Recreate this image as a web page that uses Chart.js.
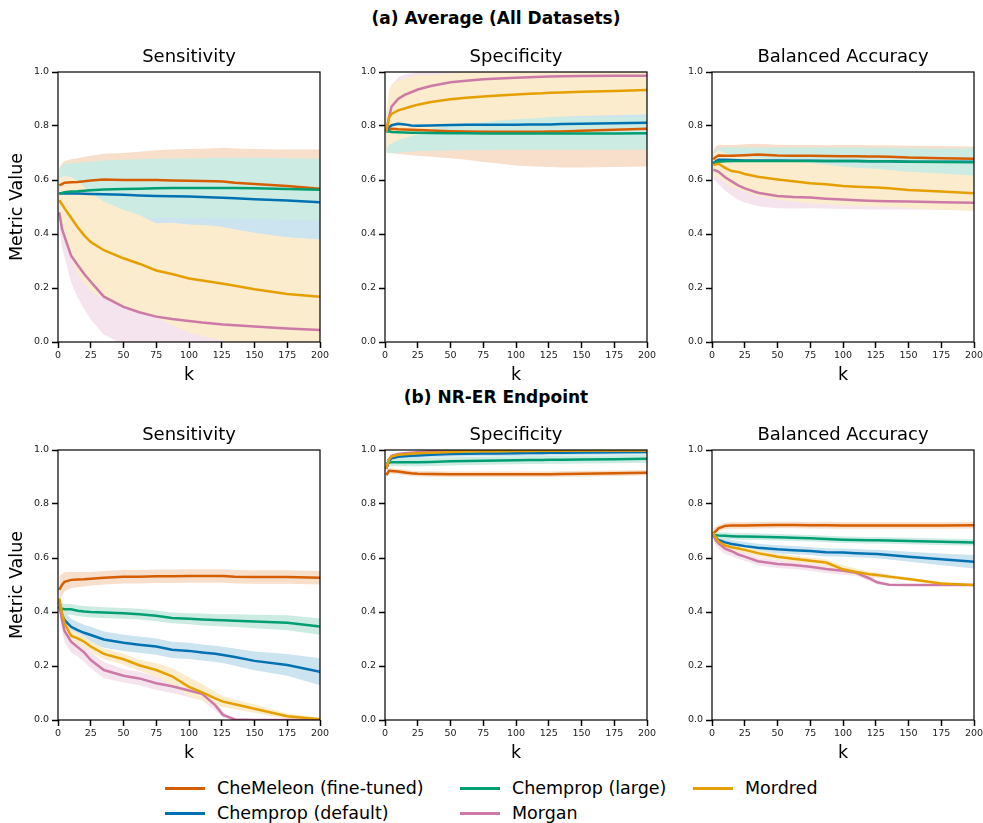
<!DOCTYPE html>
<html>
<head>
<meta charset="utf-8">
<script src="https://cdn.jsdelivr.net/npm/chart.js@4.4.0/dist/chart.umd.min.js"></script>
<style>
  body { margin: 0; background: #fff; font-family: "DejaVu Sans", sans-serif; }
  #fig { position: relative; width: 983px; height: 823px; overflow: hidden; }
  #fig canvas { position: absolute; }
  .sup { position: absolute; width: 600px; text-align: center; font-weight: bold; font-size: 17px; line-height: 20px; }
  .sub { position: absolute; width: 262px; text-align: center; font-size: 18px; line-height: 20px; }
  .lg-line { position: absolute; width: 40px; height: 3px; }
  .lg-text { position: absolute; font-size: 17.5px; line-height: 22px; white-space: nowrap; }
</style>
</head>
<body>
<div id="fig">
  <div class="sup" style="left:196px; top:8px;">(a) Average (All Datasets)</div>
  <div class="sup" style="left:196px; top:387px;">(b) NR-ER Endpoint</div>
</div>
<script>
// k values where the curves were read
const K = [1, 3, 5, 10, 15, 20, 25, 35, 50, 62, 75, 87, 100, 110, 120, 126, 135, 150, 175, 200];

const SERIES = ["CheMeleon (fine-tuned)", "Chemprop (default)", "Chemprop (large)", "Morgan", "Mordred"];
const COLORS = ["#D55E00", "#0072B2", "#009E73", "#CC79A7", "#E69F00"];
const METRICS = ["Sensitivity", "Specificity", "Balanced Accuracy"];
const X_TICKS = [0, 25, 50, 75, 100, 125, 150, 175, 200];
const Y_TICKS = [0, 0.2, 0.4, 0.6, 0.8, 1.0];

// (a) Average - Sensitivity
const a_sens_chemeleon = [0.580, 0.585, 0.590, 0.592, 0.593, 0.595, 0.598, 0.602, 0.600, 0.600, 0.600, 0.598, 0.597, 0.596, 0.595, 0.594, 0.590, 0.585, 0.578, 0.568];
const a_sens_chemeleon_sd = [0.065, 0.075, 0.080, 0.085, 0.088, 0.090, 0.092, 0.095, 0.100, 0.105, 0.110, 0.115, 0.118, 0.120, 0.123, 0.125, 0.127, 0.130, 0.135, 0.145];
const a_sens_default = [0.550, 0.550, 0.550, 0.550, 0.550, 0.549, 0.548, 0.547, 0.545, 0.543, 0.541, 0.540, 0.539, 0.537, 0.535, 0.534, 0.532, 0.529, 0.524, 0.518];
const a_sens_default_sd = [0.090, 0.100, 0.105, 0.110, 0.112, 0.115, 0.117, 0.120, 0.123, 0.125, 0.127, 0.128, 0.130, 0.131, 0.132, 0.133, 0.134, 0.135, 0.137, 0.140];
const a_sens_large = [0.550, 0.552, 0.555, 0.557, 0.558, 0.560, 0.562, 0.565, 0.567, 0.568, 0.569, 0.570, 0.570, 0.570, 0.570, 0.570, 0.570, 0.569, 0.567, 0.564];
const a_sens_large_sd = [0.090, 0.100, 0.105, 0.105, 0.105, 0.106, 0.106, 0.107, 0.108, 0.109, 0.110, 0.110, 0.111, 0.111, 0.112, 0.112, 0.112, 0.113, 0.114, 0.115];
const a_sens_morgan = [0.480, 0.420, 0.390, 0.320, 0.285, 0.252, 0.223, 0.168, 0.130, 0.110, 0.094, 0.085, 0.078, 0.072, 0.068, 0.065, 0.062, 0.057, 0.050, 0.044];
const a_sens_morgan_sd = [0.060, 0.070, 0.075, 0.100, 0.120, 0.130, 0.140, 0.140, 0.140, 0.130, 0.125, 0.120, 0.115, 0.110, 0.110, 0.105, 0.105, 0.100, 0.100, 0.100];
const a_sens_mordred = [0.525, 0.510, 0.495, 0.460, 0.425, 0.395, 0.370, 0.340, 0.310, 0.290, 0.265, 0.252, 0.235, 0.228, 0.220, 0.216, 0.208, 0.195, 0.178, 0.168];
const a_sens_mordred_sd = [0.080, 0.100, 0.120, 0.150, 0.170, 0.180, 0.180, 0.180, 0.180, 0.180, 0.175, 0.190, 0.200, 0.205, 0.210, 0.210, 0.210, 0.210, 0.210, 0.212];

// (a) Average - Specificity
const a_spec_chemeleon = [0.780, 0.785, 0.790, 0.788, 0.787, 0.786, 0.785, 0.783, 0.781, 0.780, 0.779, 0.779, 0.779, 0.779, 0.779, 0.780, 0.780, 0.782, 0.786, 0.790];
const a_spec_chemeleon_sd = [0.080, 0.085, 0.090, 0.092, 0.093, 0.094, 0.095, 0.097, 0.100, 0.105, 0.112, 0.118, 0.125, 0.128, 0.130, 0.132, 0.134, 0.136, 0.138, 0.140];
const a_spec_default = [0.780, 0.795, 0.803, 0.808, 0.806, 0.802, 0.801, 0.802, 0.804, 0.805, 0.805, 0.805, 0.805, 0.806, 0.806, 0.806, 0.807, 0.808, 0.810, 0.812];
const a_spec_default_sd = [0.025, 0.028, 0.030, 0.030, 0.030, 0.030, 0.030, 0.031, 0.032, 0.033, 0.034, 0.035, 0.035, 0.035, 0.035, 0.035, 0.035, 0.035, 0.035, 0.035];
const a_spec_large = [0.780, 0.780, 0.778, 0.777, 0.776, 0.775, 0.775, 0.774, 0.773, 0.773, 0.772, 0.772, 0.772, 0.772, 0.772, 0.772, 0.772, 0.772, 0.772, 0.773];
const a_spec_large_sd = [0.075, 0.078, 0.080, 0.076, 0.072, 0.070, 0.068, 0.066, 0.064, 0.062, 0.061, 0.060, 0.060, 0.060, 0.060, 0.060, 0.060, 0.060, 0.060, 0.060];
const a_spec_morgan = [0.780, 0.830, 0.872, 0.900, 0.915, 0.925, 0.935, 0.948, 0.962, 0.968, 0.973, 0.976, 0.979, 0.981, 0.982, 0.983, 0.984, 0.985, 0.986, 0.986];
const a_spec_morgan_sd = [0.050, 0.070, 0.080, 0.080, 0.075, 0.070, 0.065, 0.060, 0.050, 0.045, 0.040, 0.040, 0.035, 0.035, 0.035, 0.035, 0.030, 0.030, 0.030, 0.030];
const a_spec_mordred = [0.780, 0.830, 0.845, 0.858, 0.865, 0.872, 0.879, 0.889, 0.899, 0.905, 0.909, 0.913, 0.917, 0.919, 0.921, 0.923, 0.924, 0.927, 0.930, 0.933];
const a_spec_mordred_sd = [0.070, 0.100, 0.110, 0.110, 0.110, 0.110, 0.110, 0.100, 0.095, 0.095, 0.095, 0.093, 0.092, 0.091, 0.090, 0.090, 0.090, 0.090, 0.090, 0.090];

// (a) Average - Balanced Accuracy
const a_bal_chemeleon = [0.677, 0.685, 0.691, 0.690, 0.690, 0.691, 0.692, 0.694, 0.691, 0.690, 0.690, 0.689, 0.688, 0.688, 0.687, 0.687, 0.686, 0.683, 0.681, 0.679];
const a_bal_chemeleon_sd = [0.035, 0.040, 0.040, 0.040, 0.040, 0.040, 0.040, 0.040, 0.040, 0.040, 0.040, 0.040, 0.042, 0.042, 0.042, 0.042, 0.043, 0.044, 0.045, 0.045];
const a_bal_default = [0.660, 0.670, 0.675, 0.675, 0.674, 0.673, 0.672, 0.672, 0.672, 0.671, 0.671, 0.670, 0.670, 0.670, 0.669, 0.669, 0.669, 0.668, 0.668, 0.668];
const a_bal_default_sd = [0.040, 0.042, 0.045, 0.045, 0.045, 0.045, 0.045, 0.045, 0.045, 0.045, 0.045, 0.045, 0.045, 0.045, 0.045, 0.045, 0.045, 0.045, 0.045, 0.045];
const a_bal_large = [0.665, 0.667, 0.668, 0.669, 0.670, 0.670, 0.670, 0.670, 0.670, 0.670, 0.670, 0.670, 0.670, 0.670, 0.669, 0.669, 0.669, 0.668, 0.667, 0.666];
const a_bal_large_sd = [0.040, 0.045, 0.048, 0.050, 0.050, 0.050, 0.050, 0.050, 0.050, 0.050, 0.050, 0.050, 0.050, 0.050, 0.050, 0.050, 0.050, 0.050, 0.050, 0.052];
const a_bal_morgan = [0.638, 0.635, 0.630, 0.610, 0.595, 0.580, 0.569, 0.553, 0.541, 0.537, 0.535, 0.531, 0.528, 0.525, 0.523, 0.522, 0.521, 0.520, 0.518, 0.516];
const a_bal_morgan_sd = [0.035, 0.040, 0.045, 0.050, 0.052, 0.053, 0.052, 0.050, 0.046, 0.043, 0.040, 0.037, 0.035, 0.033, 0.032, 0.031, 0.030, 0.029, 0.028, 0.027];
const a_bal_mordred = [0.655, 0.658, 0.660, 0.645, 0.633, 0.630, 0.622, 0.612, 0.602, 0.595, 0.588, 0.584, 0.578, 0.575, 0.573, 0.572, 0.569, 0.563, 0.557, 0.551];
const a_bal_mordred_sd = [0.040, 0.045, 0.050, 0.055, 0.060, 0.063, 0.065, 0.070, 0.075, 0.075, 0.075, 0.073, 0.072, 0.070, 0.070, 0.070, 0.068, 0.068, 0.067, 0.066];

// (b) NR-ER - Sensitivity
const b_sens_chemeleon = [0.482, 0.500, 0.512, 0.519, 0.520, 0.521, 0.523, 0.527, 0.531, 0.531, 0.532, 0.532, 0.533, 0.533, 0.533, 0.533, 0.531, 0.530, 0.530, 0.527];
const b_sens_chemeleon_sd = [0.050, 0.040, 0.035, 0.030, 0.028, 0.027, 0.025, 0.025, 0.025, 0.025, 0.025, 0.025, 0.025, 0.025, 0.025, 0.025, 0.025, 0.025, 0.025, 0.025];
const b_sens_default = [0.420, 0.390, 0.370, 0.345, 0.333, 0.323, 0.315, 0.298, 0.286, 0.279, 0.272, 0.260, 0.256, 0.250, 0.245, 0.241, 0.233, 0.219, 0.204, 0.179];
const b_sens_default_sd = [0.020, 0.025, 0.030, 0.030, 0.030, 0.030, 0.030, 0.030, 0.030, 0.030, 0.030, 0.030, 0.030, 0.030, 0.030, 0.030, 0.032, 0.035, 0.040, 0.050];
const b_sens_large = [0.414, 0.412, 0.410, 0.410, 0.405, 0.402, 0.400, 0.398, 0.395, 0.392, 0.386, 0.378, 0.375, 0.372, 0.370, 0.369, 0.368, 0.365, 0.360, 0.346];
const b_sens_large_sd = [0.020, 0.020, 0.020, 0.020, 0.020, 0.020, 0.020, 0.020, 0.020, 0.020, 0.020, 0.020, 0.020, 0.022, 0.022, 0.023, 0.024, 0.025, 0.028, 0.030];
const b_sens_morgan = [0.440, 0.370, 0.330, 0.290, 0.270, 0.250, 0.222, 0.185, 0.164, 0.154, 0.136, 0.125, 0.109, 0.097, 0.055, 0.019, 0.002, 0.000, 0.000, 0.000];
const b_sens_morgan_sd = [0.030, 0.035, 0.040, 0.040, 0.035, 0.035, 0.030, 0.030, 0.025, 0.025, 0.025, 0.025, 0.025, 0.025, 0.020, 0.010, 0.003, 0.000, 0.000, 0.000];
const b_sens_mordred = [0.450, 0.400, 0.358, 0.312, 0.302, 0.290, 0.272, 0.245, 0.225, 0.203, 0.185, 0.162, 0.123, 0.102, 0.080, 0.068, 0.058, 0.042, 0.014, 0.003];
const b_sens_mordred_sd = [0.020, 0.020, 0.020, 0.020, 0.020, 0.020, 0.020, 0.020, 0.020, 0.020, 0.025, 0.030, 0.035, 0.030, 0.025, 0.020, 0.018, 0.015, 0.010, 0.005];

// (b) NR-ER - Specificity
const b_spec_chemeleon = [0.907, 0.923, 0.922, 0.920, 0.917, 0.914, 0.912, 0.911, 0.910, 0.910, 0.910, 0.910, 0.910, 0.910, 0.910, 0.910, 0.911, 0.912, 0.914, 0.916];
const b_spec_chemeleon_sd = [0.010, 0.010, 0.010, 0.010, 0.010, 0.010, 0.010, 0.010, 0.010, 0.010, 0.010, 0.010, 0.010, 0.010, 0.010, 0.010, 0.010, 0.010, 0.010, 0.010];
const b_spec_default = [0.930, 0.960, 0.969, 0.975, 0.977, 0.979, 0.980, 0.982, 0.985, 0.986, 0.987, 0.987, 0.988, 0.989, 0.989, 0.990, 0.990, 0.991, 0.992, 0.993];
const b_spec_default_sd = [0.010, 0.010, 0.010, 0.010, 0.010, 0.010, 0.010, 0.010, 0.010, 0.010, 0.010, 0.010, 0.010, 0.010, 0.010, 0.010, 0.010, 0.010, 0.010, 0.010];
const b_spec_large = [0.950, 0.953, 0.955, 0.955, 0.955, 0.955, 0.955, 0.956, 0.958, 0.959, 0.960, 0.961, 0.962, 0.963, 0.963, 0.964, 0.964, 0.965, 0.966, 0.968];
const b_spec_large_sd = [0.015, 0.015, 0.015, 0.015, 0.015, 0.015, 0.015, 0.015, 0.015, 0.015, 0.015, 0.015, 0.015, 0.015, 0.015, 0.015, 0.015, 0.015, 0.015, 0.015];
const b_spec_morgan = [0.930, 0.965, 0.978, 0.985, 0.988, 0.990, 0.992, 0.995, 0.997, 0.998, 0.998, 0.999, 0.999, 0.999, 0.999, 0.999, 0.999, 0.999, 0.999, 0.999];
const b_spec_morgan_sd = [0.005, 0.005, 0.005, 0.005, 0.005, 0.005, 0.005, 0.005, 0.005, 0.005, 0.005, 0.005, 0.005, 0.005, 0.005, 0.005, 0.005, 0.005, 0.005, 0.005];
const b_spec_mordred = [0.930, 0.965, 0.976, 0.982, 0.984, 0.986, 0.988, 0.990, 0.993, 0.994, 0.995, 0.995, 0.996, 0.996, 0.997, 0.997, 0.997, 0.998, 0.998, 0.998];
const b_spec_mordred_sd = [0.005, 0.005, 0.005, 0.005, 0.005, 0.005, 0.005, 0.005, 0.005, 0.005, 0.005, 0.005, 0.005, 0.005, 0.005, 0.005, 0.005, 0.005, 0.005, 0.005];

// (b) NR-ER - Balanced Accuracy
const b_bal_chemeleon = [0.691, 0.700, 0.710, 0.719, 0.720, 0.720, 0.720, 0.721, 0.722, 0.722, 0.721, 0.721, 0.720, 0.720, 0.720, 0.720, 0.720, 0.720, 0.720, 0.721];
const b_bal_chemeleon_sd = [0.020, 0.015, 0.012, 0.012, 0.012, 0.012, 0.012, 0.012, 0.012, 0.012, 0.012, 0.012, 0.012, 0.012, 0.012, 0.012, 0.012, 0.012, 0.012, 0.012];
const b_bal_default = [0.685, 0.675, 0.667, 0.658, 0.652, 0.648, 0.644, 0.638, 0.632, 0.629, 0.626, 0.621, 0.620, 0.618, 0.616, 0.615, 0.611, 0.605, 0.595, 0.586];
const b_bal_default_sd = [0.010, 0.012, 0.015, 0.015, 0.015, 0.015, 0.015, 0.015, 0.015, 0.015, 0.015, 0.015, 0.015, 0.015, 0.015, 0.016, 0.017, 0.018, 0.022, 0.025];
const b_bal_large = [0.685, 0.684, 0.683, 0.682, 0.681, 0.680, 0.680, 0.679, 0.677, 0.675, 0.673, 0.670, 0.668, 0.667, 0.666, 0.666, 0.665, 0.663, 0.660, 0.657];
const b_bal_large_sd = [0.012, 0.012, 0.012, 0.012, 0.012, 0.012, 0.012, 0.012, 0.012, 0.012, 0.012, 0.012, 0.012, 0.012, 0.012, 0.012, 0.012, 0.012, 0.012, 0.012];
const b_bal_morgan = [0.685, 0.665, 0.654, 0.635, 0.625, 0.613, 0.605, 0.588, 0.578, 0.574, 0.568, 0.559, 0.553, 0.545, 0.525, 0.510, 0.501, 0.500, 0.500, 0.500];
const b_bal_morgan_sd = [0.015, 0.020, 0.020, 0.020, 0.018, 0.017, 0.015, 0.015, 0.015, 0.015, 0.015, 0.015, 0.015, 0.012, 0.010, 0.008, 0.003, 0.001, 0.000, 0.000];
const b_bal_mordred = [0.694, 0.675, 0.661, 0.646, 0.640, 0.635, 0.630, 0.618, 0.605, 0.597, 0.590, 0.583, 0.558, 0.548, 0.540, 0.537, 0.531, 0.522, 0.506, 0.500];
const b_bal_mordred_sd = [0.010, 0.012, 0.012, 0.012, 0.012, 0.012, 0.012, 0.012, 0.012, 0.012, 0.012, 0.012, 0.015, 0.012, 0.010, 0.010, 0.008, 0.006, 0.004, 0.002];

// series order in each panel follows SERIES
const panels = [
  { row: 0, col: 0, means: [a_sens_chemeleon, a_sens_default, a_sens_large, a_sens_morgan, a_sens_mordred],
    sds: [a_sens_chemeleon_sd, a_sens_default_sd, a_sens_large_sd, a_sens_morgan_sd, a_sens_mordred_sd] },
  { row: 0, col: 1, means: [a_spec_chemeleon, a_spec_default, a_spec_large, a_spec_morgan, a_spec_mordred],
    sds: [a_spec_chemeleon_sd, a_spec_default_sd, a_spec_large_sd, a_spec_morgan_sd, a_spec_mordred_sd] },
  { row: 0, col: 2, means: [a_bal_chemeleon, a_bal_default, a_bal_large, a_bal_morgan, a_bal_mordred],
    sds: [a_bal_chemeleon_sd, a_bal_default_sd, a_bal_large_sd, a_bal_morgan_sd, a_bal_mordred_sd] },
  { row: 1, col: 0, means: [b_sens_chemeleon, b_sens_default, b_sens_large, b_sens_morgan, b_sens_mordred],
    sds: [b_sens_chemeleon_sd, b_sens_default_sd, b_sens_large_sd, b_sens_morgan_sd, b_sens_mordred_sd] },
  { row: 1, col: 1, means: [b_spec_chemeleon, b_spec_default, b_spec_large, b_spec_morgan, b_spec_mordred],
    sds: [b_spec_chemeleon_sd, b_spec_default_sd, b_spec_large_sd, b_spec_morgan_sd, b_spec_mordred_sd] },
  { row: 1, col: 2, means: [b_bal_chemeleon, b_bal_default, b_bal_large, b_bal_morgan, b_bal_mordred],
    sds: [b_bal_chemeleon_sd, b_bal_default_sd, b_bal_large_sd, b_bal_morgan_sd, b_bal_mordred_sd] },
];

// layout (px)
const PLOT_W = 262, PLOT_H = 270;
const YAX_W = 58, XAX_H = 42, PAD_T = 10, PAD_R = 16;
const colLeft = [58, 385, 712];
const rowTop = [72, 450];

Chart.defaults.font.family = "'DejaVu Sans', sans-serif";
Chart.defaults.color = "#222";

// light tint of a colour (like alpha 0.2 over white), painted solid
function tint(hex, a) {
  var n = parseInt(hex.slice(1), 16);
  var r = n >> 16, g = (n >> 8) & 255, b = n & 255;
  return "rgb(" + Math.round(255 - a * (255 - r)) + "," + Math.round(255 - a * (255 - g)) + "," + Math.round(255 - a * (255 - b)) + ")";
}

// matplotlib style box around the axes
const frame = {
  id: "frame",
  afterDatasetsDraw(chart) {
    var a = chart.chartArea, ctx = chart.ctx;
    ctx.save();
    ctx.strokeStyle = "#000";
    ctx.lineWidth = 1.2;
    ctx.strokeRect(a.left, a.top, a.right - a.left, a.bottom - a.top);
    ctx.restore();
  }
};

var fig = document.getElementById("fig");

panels.forEach(function (p) {
  var canvas = document.createElement("canvas");
  canvas.width = YAX_W + PLOT_W + PAD_R;
  canvas.height = PAD_T + PLOT_H + XAX_H;
  canvas.style.left = (colLeft[p.col] - YAX_W) + "px";
  canvas.style.top = (rowTop[p.row] - PAD_T) + "px";
  fig.appendChild(canvas);

  var title = document.createElement("div");
  title.className = "sub";
  title.textContent = METRICS[p.col];
  title.style.left = colLeft[p.col] + "px";
  title.style.top = (rowTop[p.row] - 26) + "px";
  fig.appendChild(title);

  var datasets = [];
  // bands first (drawn under the lines), later series cover earlier ones
  SERIES.forEach(function (name, i) {
    var m = p.means[i], s = p.sds[i];
    datasets.push({
      label: name + " hi",
      data: K.map((k, j) => ({ x: k, y: m[j] + s[j] })),
      borderWidth: 0, pointRadius: 0, fill: "+1",
      backgroundColor: tint(COLORS[i], 0.2), order: 20 - i
    });
    datasets.push({
      label: name + " lo",
      data: K.map((k, j) => ({ x: k, y: m[j] - s[j] })),
      borderWidth: 0, pointRadius: 0, fill: false, order: 20 - i
    });
  });
  SERIES.forEach(function (name, i) {
    datasets.push({
      label: name,
      data: K.map((k, j) => ({ x: k, y: p.means[i][j] })),
      borderColor: COLORS[i], borderWidth: 2.5, pointRadius: 0,
      fill: false, tension: 0, order: 10 - i
    });
  });

  new Chart(canvas, {
    type: "line",
    data: { datasets: datasets },
    plugins: [frame],
    options: {
      responsive: false,
      animation: false,
      devicePixelRatio: 1,
      layout: { padding: { top: PAD_T, right: PAD_R, left: 0, bottom: 0 } },
      plugins: { legend: { display: false }, tooltip: { enabled: false } },
      scales: {
        x: {
          type: "linear", min: 0, max: 200,
          afterFit: function (s) { s.height = XAX_H; },
          afterBuildTicks: function (s) { s.ticks = X_TICKS.map(v => ({ value: v })); },
          ticks: { font: { size: 9.5 }, color: "#222", padding: 2, maxRotation: 0, autoSkip: false },
          grid: { drawOnChartArea: false, tickLength: 6, tickWidth: 1.5, tickColor: "#000" },
          border: { display: false },
          title: { display: true, text: "k", color: "#000", font: { size: 17.5, lineHeight: 1 }, padding: 0 }
        },
        y: {
          min: 0, max: 1,
          afterFit: function (s) { s.width = YAX_W; },
          afterBuildTicks: function (s) { s.ticks = Y_TICKS.map(v => ({ value: v })); },
          ticks: { font: { size: 9.5 }, color: "#222", padding: 3, callback: v => v.toFixed(1) },
          grid: { drawOnChartArea: false, tickLength: 6, tickWidth: 1.5, tickColor: "#000" },
          border: { display: false },
          title: { display: p.col === 0, text: "Metric Value", color: "#000",
                   font: { size: 17.5, lineHeight: 1.2 }, padding: { top: 7, bottom: 0 } }
        }
      }
    }
  });
});

// legend, three columns like matplotlib ncol=3
const legendPos = [[165, 788], [165, 813], [460, 788], [460, 813], [693, 788]];
SERIES.forEach(function (name, i) {
  var line = document.createElement("div");
  line.className = "lg-line";
  line.style.background = COLORS[i];
  line.style.left = legendPos[i][0] + "px";
  line.style.top = (legendPos[i][1] - 1.5) + "px";
  fig.appendChild(line);
  var txt = document.createElement("div");
  txt.className = "lg-text";
  txt.textContent = name;
  txt.style.left = (legendPos[i][0] + 52) + "px";
  txt.style.top = (legendPos[i][1] - 11) + "px";
  fig.appendChild(txt);
});
</script>
</body>
</html>
